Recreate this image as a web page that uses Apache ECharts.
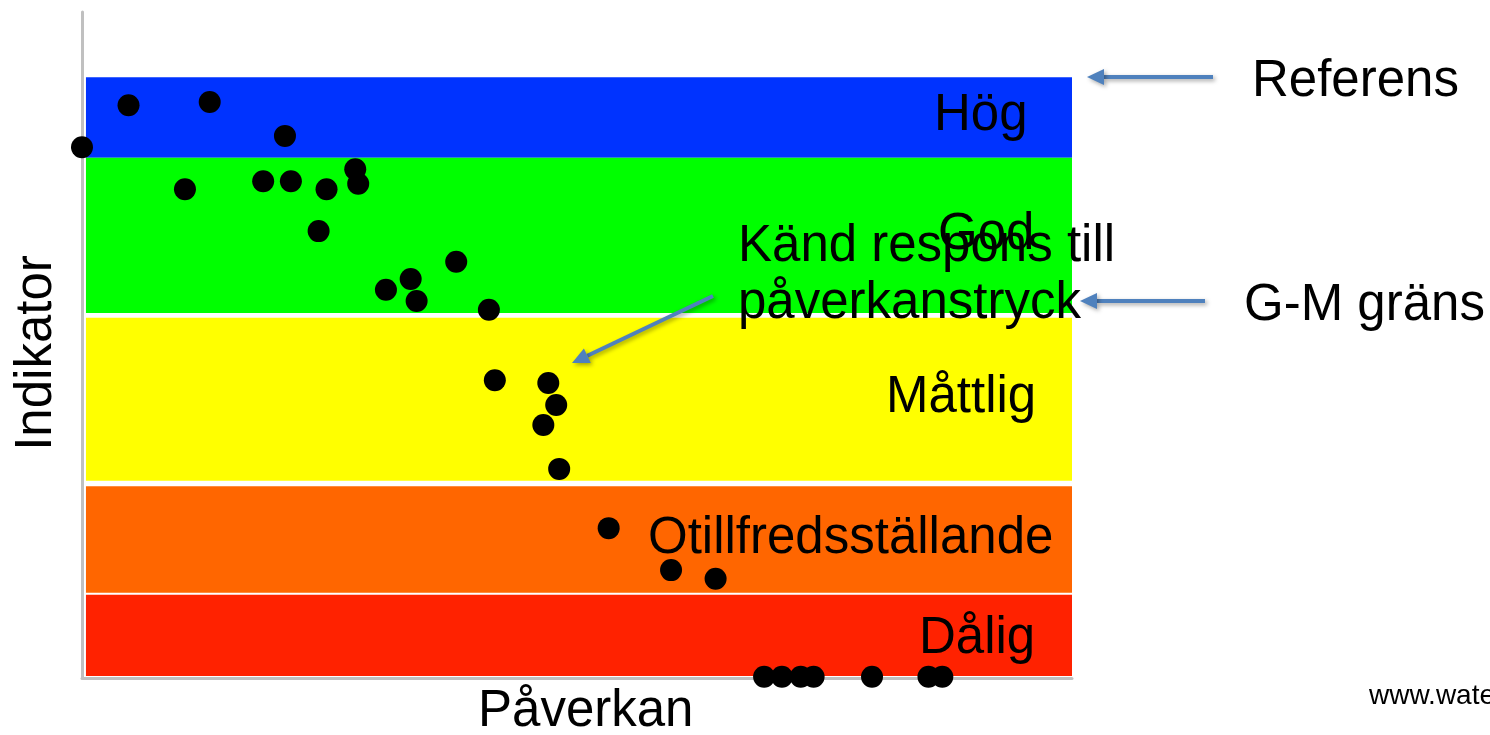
<!DOCTYPE html>
<html>
<head>
<meta charset="utf-8">
<script src="https://cdn.jsdelivr.net/npm/echarts@6/dist/echarts.min.js"></script>
<style>
html,body{margin:0;padding:0;background:#fff;}
#chart{width:1490px;height:735px;}
</style>
</head>
<body>
<div id="chart"></div>
<script>
// Data (arbitrary units 0-100)
const pressure  = [0, 4.7, 12.9, 20.5, 10.4, 18.3, 21.1, 24.7, 27.6, 27.9, 23.9, 37.8, 33.2, 30.7, 33.8, 41.1, 41.7, 47.1, 47.9, 46.6, 48.2, 53.2, 59.5, 64.0, 68.9, 70.7, 72.6, 73.9, 79.8, 85.5, 86.9];
const indicator = [79.7, 86.0, 86.5, 81.4, 73.4, 74.6, 74.6, 73.4, 76.4, 74.2, 67.1, 62.5, 59.9, 58.3, 56.6, 55.3, 44.7, 44.3, 41.0, 38.0, 31.4, 22.5, 16.2, 14.9, 0.2, 0.2, 0.2, 0.2, 0.2, 0.2, 0.2];

const bandNames = ['Hög', 'God', 'Måttlig', 'Otillfredsställande', 'Dålig'];
const bandLow   = [78.1, 54.8, 29.6, 12.8, 0.3];
const bandHigh  = [90.2, 78.1, 54.1, 28.8, 12.5];
const bandStart = 0.4;
const bandEnd   = 100;

const xAxisName = 'Påverkan';
const yAxisName = 'Indikator';
const noteText = ['Känd respons till', 'påverkanstryck'];
const refText = 'Referens';
const gmText = 'G-M gräns';
const sourceText = 'www.water';

// styles
const bandColors = ['#0033FF', '#00FF00', '#FFFF00', '#FF6600', '#FF2200'];
const FONT = '"Liberation Sans", Arial, sans-serif';
const FS = 51;
const arrowColor = '#4F81BD';

const points = pressure.map((x, i) => [x, indicator[i]]);
const bandAreas = bandNames.map((n, i) => [
  { xAxis: bandStart, yAxis: bandLow[i], itemStyle: { color: bandColors[i], opacity: 1 } },
  { xAxis: bandEnd, yAxis: bandHigh[i] }
]);

function txt(text, x, baseline, size, align) {
  return {
    type: 'text', z: 100,
    style: {
      text: text, x: x, y: baseline - size * 0.31,
      font: size + 'px ' + FONT, fill: '#000',
      textAlign: align || 'left', textVerticalAlign: 'middle'
    }
  };
}
function arrow(x1, y1, x2, y2) {
  const ang = Math.atan2(y2 - y1, x2 - x1);
  const L = 17, W = 8;
  const bx = x2 - L * Math.cos(ang), by = y2 - L * Math.sin(ang);
  const px = -Math.sin(ang) * W, py = Math.cos(ang) * W;
  const shadow = { shadowBlur: 4, shadowColor: 'rgba(0,0,0,0.35)', shadowOffsetX: 2, shadowOffsetY: 2 };
  return [
    { type: 'line', z: 90, shape: { x1: x1, y1: y1, x2: bx, y2: by },
      style: Object.assign({ stroke: arrowColor, lineWidth: 4 }, shadow) },
    { type: 'polygon', z: 90, shape: { points: [[x2, y2], [bx + px, by + py], [bx - px, by - py]] },
      style: Object.assign({ fill: arrowColor }, shadow) }
  ];
}

const chart = echarts.init(document.getElementById('chart'), null, { renderer: 'canvas' });

const graphics = [
  txt(bandNames[0], 934, 132, FS),
  txt(bandNames[1], 938, 251, FS),
  txt(bandNames[2], 886, 414, FS),
  txt(bandNames[3], 648, 555, FS),
  txt(bandNames[4], 919, 655, FS),
  txt(noteText[0], 738, 263, FS),
  txt(noteText[1], 738, 320, FS),
  txt(refText, 1252, 98, FS),
  txt(gmText, 1244, 322, FS),
  txt(xAxisName, 478, 728, FS),
  txt(sourceText, 1369, 705, 28),
  {
    type: 'text', z: 100, rotation: Math.PI / 2, x: 53 - FS * 0.31, y: 353,
    style: { text: yAxisName, x: 0, y: 0, font: FS + 'px ' + FONT, fill: '#000', textAlign: 'center', textVerticalAlign: 'middle' }
  }
].concat(arrow(1213, 77, 1087, 77), arrow(1205, 301, 1080, 301), arrow(713, 296, 572, 363));

chart.setOption({
  backgroundColor: '#fff',
  animation: false,
  grid: { left: 82, right: 418, top: 12, bottom: 57 },
  xAxis: {
    type: 'value', min: 0, max: 100,
    axisLine: { show: true, lineStyle: { color: '#c0c0c0', width: 3 } },
    axisTick: { show: false }, axisLabel: { show: false }, splitLine: { show: false }
  },
  yAxis: {
    type: 'value', min: 0, max: 100,
    axisLine: { show: true, lineStyle: { color: '#c0c0c0', width: 3 } },
    axisTick: { show: false }, axisLabel: { show: false }, splitLine: { show: false }
  },
  series: [
    {
      type: 'scatter', z: 1, data: [], silent: true,
      markArea: { silent: true, label: { show: false }, data: bandAreas }
    },
    {
      type: 'scatter', z: 5, clip: false,
      symbol: 'circle', symbolSize: 22,
      itemStyle: { color: '#000', opacity: 1 },
      data: points
    }
  ],
  graphic: graphics
});
</script>
</body>
</html>
